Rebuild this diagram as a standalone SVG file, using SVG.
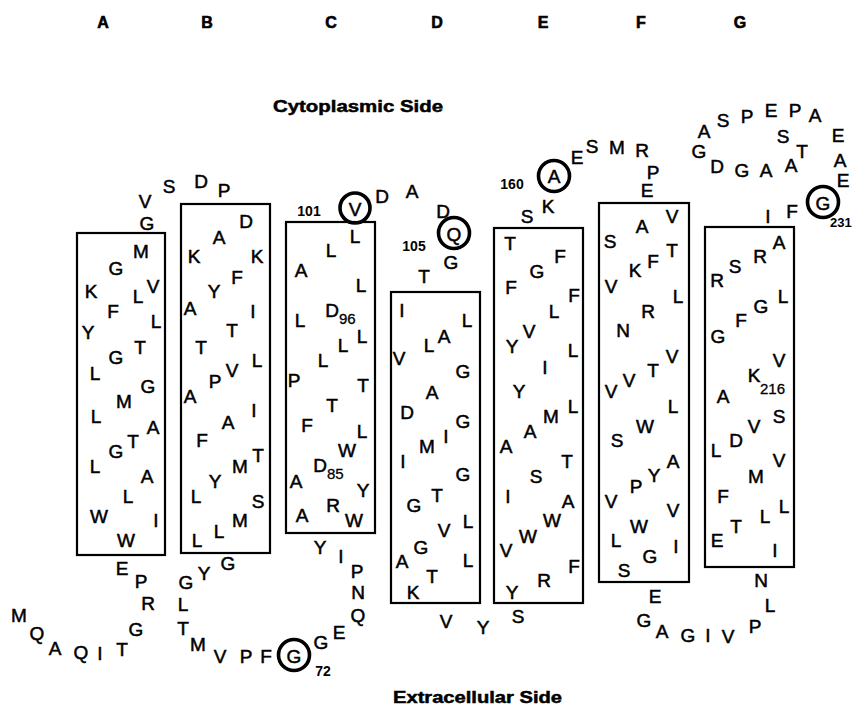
<svg xmlns="http://www.w3.org/2000/svg" width="854" height="707" viewBox="0 0 854 707">
<style>
text{font-family:"Liberation Sans",Arial,sans-serif;fill:#000}
.r{font-size:19px;text-anchor:middle;stroke:#000;stroke-width:0.5}
.h{font-size:16px;font-weight:bold;text-anchor:middle;stroke:#000;stroke-width:0.6}
.t{font-size:17px;font-weight:bold;stroke:#000;stroke-width:0.5}
.n{font-size:14px;font-weight:bold;text-anchor:middle}
.s{font-size:15px;stroke:#000;stroke-width:0.3}
.box{fill:none;stroke:#000;stroke-width:2.2}
.c{fill:none;stroke:#000;stroke-width:3.6}
</style>
<rect width="854" height="707" fill="#fff"/>
<g id="headers">
<text class="h" x="103" y="28">A</text>
<text class="h" x="207" y="28">B</text>
<text class="h" x="331" y="28">C</text>
<text class="h" x="437" y="28">D</text>
<text class="h" x="543" y="28">E</text>
<text class="h" x="641" y="28">F</text>
<text class="h" x="740" y="28">G</text>
<text class="t" x="273" y="112" textLength="170" lengthAdjust="spacingAndGlyphs">Cytoplasmic Side</text>
<text class="t" x="393" y="703" textLength="169" lengthAdjust="spacingAndGlyphs">Extracellular Side</text>
</g>
<g id="nterm">
<text class="r" x="19" y="622">M</text>
<text class="r" x="37" y="640">Q</text>
<text class="r" x="55" y="655">A</text>
<text class="r" x="81" y="659">Q</text>
<text class="r" x="100" y="660">I</text>
<text class="r" x="122" y="656">T</text>
<text class="r" x="136" y="636">G</text>
<text class="r" x="148" y="610">R</text>
<text class="r" x="141" y="588">P</text>
<text class="r" x="122" y="575">E</text>
</g>
<g id="helixA">
<rect class="box" x="77" y="233" width="88" height="322"/>
<text class="r" x="141" y="258">M</text>
<text class="r" x="116" y="275">G</text>
<text class="r" x="91" y="298">K</text>
<text class="r" x="153" y="293">V</text>
<text class="r" x="138" y="303">L</text>
<text class="r" x="113" y="318">F</text>
<text class="r" x="156" y="328">L</text>
<text class="r" x="88" y="339">Y</text>
<text class="r" x="140" y="354">T</text>
<text class="r" x="116" y="364">G</text>
<text class="r" x="95" y="380">L</text>
<text class="r" x="148" y="393">G</text>
<text class="r" x="124" y="408">M</text>
<text class="r" x="96" y="423">L</text>
<text class="r" x="153" y="434">A</text>
<text class="r" x="133" y="448">T</text>
<text class="r" x="116" y="458">G</text>
<text class="r" x="95" y="473">L</text>
<text class="r" x="147" y="483">A</text>
<text class="r" x="128" y="503">L</text>
<text class="r" x="99" y="523">W</text>
<text class="r" x="156" y="527">I</text>
<text class="r" x="126" y="547">W</text>
</g>
<g id="loopAB">
<text class="r" x="147" y="230">G</text>
<text class="r" x="145" y="208">V</text>
<text class="r" x="169" y="193">S</text>
<text class="r" x="201" y="188">D</text>
<text class="r" x="224" y="197">P</text>
</g>
<g id="helixB">
<rect class="box" x="181" y="204" width="89" height="349"/>
<text class="r" x="246" y="228">D</text>
<text class="r" x="219" y="244">A</text>
<text class="r" x="194" y="263">K</text>
<text class="r" x="257" y="263">K</text>
<text class="r" x="237" y="284">F</text>
<text class="r" x="214" y="298">Y</text>
<text class="r" x="190" y="315">A</text>
<text class="r" x="253" y="318">I</text>
<text class="r" x="232" y="337">T</text>
<text class="r" x="201" y="354">T</text>
<text class="r" x="257" y="367">L</text>
<text class="r" x="232" y="377">V</text>
<text class="r" x="215" y="388">P</text>
<text class="r" x="190" y="403">A</text>
<text class="r" x="254" y="417">I</text>
<text class="r" x="228" y="429">A</text>
<text class="r" x="202" y="447">F</text>
<text class="r" x="258" y="462">T</text>
<text class="r" x="240" y="473">M</text>
<text class="r" x="215" y="488">Y</text>
<text class="r" x="196" y="503">L</text>
<text class="r" x="258" y="508">S</text>
<text class="r" x="240" y="527">M</text>
<text class="r" x="219" y="538">L</text>
<text class="r" x="197" y="547">L</text>
</g>
<g id="loopBC">
<text class="r" x="228" y="570">G</text>
<text class="r" x="204" y="580">Y</text>
<text class="r" x="186" y="589">G</text>
<text class="r" x="183" y="611">L</text>
<text class="r" x="183" y="635">T</text>
<text class="r" x="198" y="651">M</text>
<text class="r" x="220" y="663">V</text>
<text class="r" x="246" y="663">P</text>
<text class="r" x="266" y="663">F</text>
<circle class="c" cx="294" cy="655" r="15.5"/>
<text class="r" x="294" y="663">G</text>
<text class="n" x="323" y="676">72</text>
<text class="r" x="321" y="649">G</text>
<text class="r" x="339" y="639">E</text>
<text class="r" x="358" y="622">Q</text>
<text class="r" x="358" y="599">N</text>
<text class="r" x="357" y="578">P</text>
<text class="r" x="341" y="563">I</text>
<text class="r" x="320" y="554">Y</text>
</g>
<g id="helixC">
<rect class="box" x="286" y="222" width="89" height="311"/>
<text class="r" x="355" y="243">L</text>
<text class="r" x="331" y="257">L</text>
<text class="r" x="301" y="277">A</text>
<text class="r" x="361" y="292">L</text>
<text class="r" x="332" y="317">D</text>
<text class="s" x="339" y="324">96</text>
<text class="r" x="300" y="327">L</text>
<text class="r" x="362" y="343">L</text>
<text class="r" x="343" y="352">L</text>
<text class="r" x="323" y="367">L</text>
<text class="r" x="294" y="387">P</text>
<text class="r" x="363" y="392">T</text>
<text class="r" x="332" y="412">T</text>
<text class="r" x="307" y="432">F</text>
<text class="r" x="362" y="438">L</text>
<text class="r" x="347" y="457">W</text>
<text class="r" x="320" y="472">D</text>
<text class="s" x="327" y="479">85</text>
<text class="r" x="296" y="488">A</text>
<text class="r" x="363" y="497">Y</text>
<text class="r" x="333" y="512">R</text>
<text class="r" x="302" y="522">A</text>
<text class="r" x="354" y="527">W</text>
</g>
<g id="loopCD">
<text class="n" x="309" y="216">101</text>
<circle class="c" cx="355" cy="208" r="15"/>
<text class="r" x="355" y="216">V</text>
<text class="r" x="382" y="203">D</text>
<text class="r" x="412" y="198">A</text>
<text class="r" x="443" y="218">D</text>
<circle class="c" cx="454" cy="233" r="15.5"/>
<text class="r" x="454" y="241">Q</text>
<text class="n" x="414" y="251">105</text>
<text class="r" x="451" y="269">G</text>
<text class="r" x="424" y="283">T</text>
</g>
<g id="helixD">
<rect class="box" x="391" y="292" width="89" height="311"/>
<text class="r" x="402" y="317">I</text>
<text class="r" x="467" y="327">L</text>
<text class="r" x="444" y="343">A</text>
<text class="r" x="429" y="352">L</text>
<text class="r" x="399" y="365">V</text>
<text class="r" x="463" y="378">G</text>
<text class="r" x="432" y="399">A</text>
<text class="r" x="407" y="419">D</text>
<text class="r" x="463" y="428">G</text>
<text class="r" x="446" y="443">I</text>
<text class="r" x="427" y="453">M</text>
<text class="r" x="403" y="468">I</text>
<text class="r" x="463" y="481">G</text>
<text class="r" x="437" y="502">T</text>
<text class="r" x="414" y="512">G</text>
<text class="r" x="468" y="528">L</text>
<text class="r" x="444" y="537">V</text>
<text class="r" x="421" y="554">G</text>
<text class="r" x="468" y="567">L</text>
<text class="r" x="402" y="568">A</text>
<text class="r" x="432" y="583">T</text>
<text class="r" x="413" y="599">K</text>
</g>
<g id="loopDE">
<text class="r" x="446" y="628">V</text>
<text class="r" x="483" y="634">Y</text>
<text class="r" x="518" y="623">S</text>
</g>
<g id="helixE">
<rect class="box" x="494" y="228" width="89" height="375"/>
<text class="r" x="510" y="250">T</text>
<text class="r" x="560" y="263">F</text>
<text class="r" x="537" y="278">G</text>
<text class="r" x="511" y="294">F</text>
<text class="r" x="574" y="302">F</text>
<text class="r" x="554" y="318">L</text>
<text class="r" x="529" y="338">V</text>
<text class="r" x="512" y="353">Y</text>
<text class="r" x="573" y="357">L</text>
<text class="r" x="545" y="374">I</text>
<text class="r" x="519" y="398">Y</text>
<text class="r" x="573" y="413">L</text>
<text class="r" x="551" y="423">M</text>
<text class="r" x="530" y="438">A</text>
<text class="r" x="506" y="453">A</text>
<text class="r" x="567" y="468">T</text>
<text class="r" x="536" y="483">S</text>
<text class="r" x="508" y="503">I</text>
<text class="r" x="568" y="508">A</text>
<text class="r" x="552" y="527">W</text>
<text class="r" x="528" y="543">W</text>
<text class="r" x="506" y="557">V</text>
<text class="r" x="574" y="573">F</text>
<text class="r" x="544" y="587">R</text>
<text class="r" x="512" y="599">Y</text>
</g>
<g id="loopEF">
<text class="r" x="527" y="223">S</text>
<text class="r" x="548" y="213">K</text>
<text class="n" x="512" y="189">160</text>
<circle class="c" cx="554" cy="176" r="15.5"/>
<text class="r" x="554" y="183">A</text>
<text class="r" x="577" y="164">E</text>
<text class="r" x="592" y="153">S</text>
<text class="r" x="617" y="154">M</text>
<text class="r" x="642" y="157">R</text>
<text class="r" x="653" y="179">P</text>
<text class="r" x="647" y="197">E</text>
</g>
<g id="helixF">
<rect class="box" x="599" y="203" width="90" height="379"/>
<text class="r" x="672" y="223">V</text>
<text class="r" x="642" y="233">A</text>
<text class="r" x="610" y="248">S</text>
<text class="r" x="672" y="257">T</text>
<text class="r" x="653" y="268">F</text>
<text class="r" x="635" y="277">K</text>
<text class="r" x="611" y="293">V</text>
<text class="r" x="678" y="303">L</text>
<text class="r" x="648" y="318">R</text>
<text class="r" x="623" y="337">N</text>
<text class="r" x="672" y="363">V</text>
<text class="r" x="653" y="377">T</text>
<text class="r" x="629" y="387">V</text>
<text class="r" x="611" y="398">V</text>
<text class="r" x="673" y="413">L</text>
<text class="r" x="645" y="433">W</text>
<text class="r" x="617" y="447">S</text>
<text class="r" x="673" y="468">A</text>
<text class="r" x="654" y="482">Y</text>
<text class="r" x="636" y="493">P</text>
<text class="r" x="611" y="508">V</text>
<text class="r" x="673" y="517">V</text>
<text class="r" x="639" y="533">W</text>
<text class="r" x="616" y="547">L</text>
<text class="r" x="676" y="553">I</text>
<text class="r" x="650" y="563">G</text>
<text class="r" x="624" y="577">S</text>
</g>
<g id="loopFG">
<text class="r" x="655" y="603">E</text>
<text class="r" x="644" y="627">G</text>
<text class="r" x="662" y="638">A</text>
<text class="r" x="688" y="642">G</text>
<text class="r" x="708" y="642">I</text>
<text class="r" x="728" y="643">V</text>
<text class="r" x="755" y="633">P</text>
<text class="r" x="770" y="612">L</text>
<text class="r" x="761" y="587">N</text>
</g>
<g id="helixG">
<rect class="box" x="705" y="227" width="89" height="340"/>
<text class="r" x="779" y="249">A</text>
<text class="r" x="760" y="263">R</text>
<text class="r" x="735" y="273">S</text>
<text class="r" x="717" y="287">R</text>
<text class="r" x="783" y="303">L</text>
<text class="r" x="761" y="313">G</text>
<text class="r" x="741" y="327">F</text>
<text class="r" x="718" y="343">G</text>
<text class="r" x="779" y="367">V</text>
<text class="r" x="754" y="382">K</text>
<text class="s" x="760" y="394">216</text>
<text class="r" x="723" y="403">A</text>
<text class="r" x="779" y="423">S</text>
<text class="r" x="754" y="433">V</text>
<text class="r" x="736" y="447">D</text>
<text class="r" x="716" y="457">L</text>
<text class="r" x="779" y="467">V</text>
<text class="r" x="756" y="483">M</text>
<text class="r" x="723" y="503">F</text>
<text class="r" x="784" y="513">L</text>
<text class="r" x="765" y="523">L</text>
<text class="r" x="736" y="533">T</text>
<text class="r" x="717" y="547">E</text>
<text class="r" x="775" y="557">I</text>
</g>
<g id="cterm">
<text class="r" x="768" y="223">I</text>
<text class="r" x="792" y="218">F</text>
<circle class="c" cx="823" cy="202" r="15.5"/>
<text class="r" x="823" y="210">G</text>
<text class="n" x="830" y="227" style="text-anchor:start;font-size:13px">231</text>
<text class="r" x="843" y="187">E</text>
<text class="r" x="840" y="167">A</text>
<text class="r" x="838" y="142">E</text>
<text class="r" x="815" y="122">A</text>
<text class="r" x="795" y="117">P</text>
<text class="r" x="771" y="117">E</text>
<text class="r" x="747" y="123">P</text>
<text class="r" x="723" y="127">S</text>
<text class="r" x="704" y="138">A</text>
<text class="r" x="699" y="158">G</text>
<text class="r" x="717" y="173">D</text>
<text class="r" x="742" y="177">G</text>
<text class="r" x="766" y="177">A</text>
<text class="r" x="791" y="172">A</text>
<text class="r" x="802" y="158">T</text>
<text class="r" x="783" y="143">S</text>
</g>
</svg>
